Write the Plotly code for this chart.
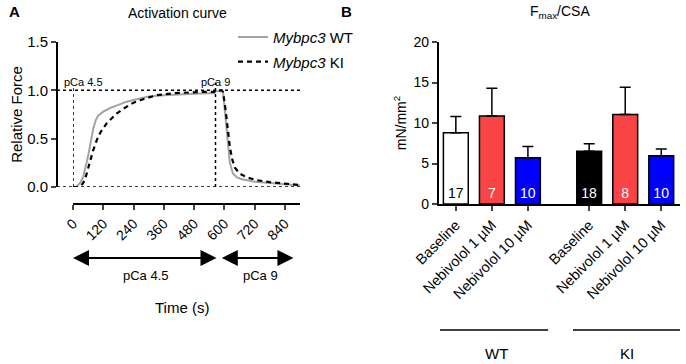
import plotly.graph_objects as go

# ---- Panel A data (relative force vs time) ----
t_wt = [0, 10, 20, 30, 40, 50, 60, 70, 80, 90, 100, 120, 150, 180, 210, 240, 270, 300,
        360, 420, 480, 540, 560, 565, 590, 595, 600, 605, 614, 622, 634, 650, 670, 690,
        720, 780, 840, 900]
f_wt = [0.0, 0.0, 0.02, 0.05, 0.10, 0.20, 0.32, 0.46, 0.60, 0.69, 0.74, 0.78, 0.82, 0.85,
        0.88, 0.90, 0.92, 0.935, 0.95, 0.96, 0.965, 0.97, 0.97, 0.99, 0.99, 0.98, 0.85,
        0.70, 0.41, 0.25, 0.14, 0.10, 0.08, 0.07, 0.055, 0.04, 0.025, 0.015]

t_ki = [0, 20, 30, 40, 50, 60, 70, 80, 95, 110, 134, 155, 173, 200, 238, 280, 333, 400,
        460, 520, 560, 565, 590, 595, 605, 613, 622, 632, 642, 660, 689, 730, 780, 840, 900]
f_ki = [0.0, 0.0, 0.01, 0.04, 0.10, 0.19, 0.30, 0.38, 0.49, 0.57, 0.66, 0.72, 0.76, 0.81,
        0.87, 0.91, 0.95, 0.97, 0.98, 0.985, 0.985, 1.0, 1.0, 0.98, 0.80, 0.60, 0.41, 0.28,
        0.20, 0.14, 0.10, 0.07, 0.05, 0.035, 0.02]

time_ticks = [0, 120, 240, 360, 480, 600, 720, 840]
switch_time = 565

# ---- Panel B data (Fmax/CSA) ----
bar_pos = [0, 1, 2, 3.7, 4.7, 5.7]
bar_labels = ["Baseline", "Nebivolol 1 µM", "Nebivolol 10 µM",
              "Baseline", "Nebivolol 1 µM", "Nebivolol 10 µM"]
bar_means = [8.8, 10.85, 5.7, 6.5, 11.05, 5.95]
bar_sem = [2.0, 3.45, 1.4, 0.95, 3.35, 0.85]
bar_n = ["17", "7", "10", "18", "8", "10"]
bar_colors = ["#ffffff", "#f84444", "#0000ff", "#000000", "#f84444", "#0000ff"]
n_colors = ["#000000", "#ffffff", "#ffffff", "#ffffff", "#ffffff", "#ffffff"]

FONT = "Arial, Liberation Sans, sans-serif"

fig = go.Figure()

fig.add_trace(go.Scatter(x=t_wt, y=f_wt, mode="lines", name="<i>Mybpc3</i> WT",
                         line=dict(color="#a3a3a3", width=2), xaxis="x", yaxis="y",
                         legend="legend"))
fig.add_trace(go.Scatter(x=t_ki, y=f_ki, mode="lines", name="<i>Mybpc3</i> KI",
                         line=dict(color="#000000", width=2.2, dash="5px,4px"),
                         xaxis="x", yaxis="y", legend="legend2"))

fig.add_trace(go.Bar(x=bar_pos, y=bar_means, width=0.69,
                     marker=dict(color=bar_colors, line=dict(color="black", width=1.5)),
                     error_y=dict(type="data", symmetric=False, array=bar_sem,
                                  arrayminus=[0] * len(bar_sem), color="black",
                                  thickness=1.5, width=5.5),
                     text=bar_n, textposition="inside", insidetextanchor="start",
                     textangle=0, textfont=dict(color=n_colors, size=14, family=FONT),
                     showlegend=False, xaxis="x2", yaxis="y2"))

shapes = []
# dotted reference lines panel A
for yv in [0, 1]:
    shapes.append(dict(type="line", xref="paper", yref="y", x0=0, x1=0.39, y0=yv, y1=yv,
                       line=dict(color="black", width=1.5, dash="dot")))
shapes.append(dict(type="line", xref="x", yref="y", x0=0, x1=0, y0=0, y1=1.03,
                   line=dict(color="black", width=1.5, dash="dot")))
shapes.append(dict(type="line", xref="x", yref="y", x0=switch_time, x1=switch_time, y0=0, y1=1.08,
                   line=dict(color="black", width=1.5, dash="dot")))
# group lines panel B
shapes.append(dict(type="line", xref="x2", yref="paper", x0=-0.44, x1=2.56, y0=-0.778, y1=-0.778,
                   line=dict(color="black", width=1.5)))
shapes.append(dict(type="line", xref="x2", yref="paper", x0=3.25, x1=6.28, y0=-0.778, y1=-0.778,
                   line=dict(color="black", width=1.5)))

arrow_y = -0.333
arrow_style = dict(showarrow=True, arrowside="end+start", arrowhead=2, startarrowhead=2,
                   arrowsize=1.6, startarrowsize=1.6, arrowwidth=2, arrowcolor="black",
                   axref="x", ayref="pixel", ay=0, xref="x", yref="paper", text="")


def label(text, x, y, xref="paper", yref="paper", size=13, xanchor="center"):
    return dict(text=text, x=x, y=y, xref=xref, yref=yref, showarrow=False,
                xanchor=xanchor, yanchor="middle", font=dict(size=size))


annotations = [
    label("<b>A</b>", -0.08, 1.19, size=15, xanchor="left"),
    label("Activation curve", 0.193, 1.18, size=14),
    label("<b>B</b>", 0.465, 1.19, size=15),
    label("F<sub>max</sub>/CSA", 0.807, 1.185, size=14),
    label("pCa 4.5", 40, 1.09, xref="x", yref="y", size=11),
    label("pCa 9", switch_time, 1.09, xref="x", yref="y", size=11),
    dict(x=0, y=arrow_y, ax=575, **arrow_style),
    dict(x=590, y=arrow_y, ax=880, **arrow_style),
    label("pCa 4.5", 288, -0.44, xref="x", size=13),
    label("pCa 9", 745, -0.44, xref="x", size=13),
    label("Time (s)", 0.2, -0.64, size=15),
    label("WT", 1.14, -0.92, xref="x2", size=15),
    label("KI", 4.75, -0.92, xref="x2", size=15),
]

legend_common = dict(x=0.2825, xanchor="left", yanchor="middle", bgcolor="rgba(0,0,0,0)",
                     font=dict(size=15), itemwidth=30)

fig.update_layout(
    width=686, height=364,
    margin=dict(l=57, r=6, t=42, b=160, autoexpand=False),
    paper_bgcolor="white", plot_bgcolor="white",
    font=dict(family=FONT, color="black", size=13),
    showlegend=True,
    legend=dict(y=1.03, **legend_common),
    legend2=dict(y=0.877, **legend_common),
    xaxis=dict(domain=[0.0257, 0.39], range=[0, 900], anchor="free", position=0,
               showline=True, linecolor="black", linewidth=2, ticks="outside", ticklen=5,
               tickwidth=2, tickvals=time_ticks, tickangle=-45, tickfont=dict(size=14),
               showgrid=False, zeroline=False),
    yaxis=dict(domain=[0.105, 1], range=[0, 1.5], anchor="free", position=0,
               showline=True, linecolor="black", linewidth=2, ticks="outside", ticklen=5,
               tickwidth=2, tickvals=[0, 0.5, 1.0, 1.5], tickformat=".1f",
               tickfont=dict(size=15), showgrid=False, zeroline=False,
               title=dict(text="Relative Force", font=dict(size=15), standoff=0)),
    xaxis2=dict(domain=[0.613, 1.0], range=[-0.47, 6.22], anchor="y2",
                showline=True, linecolor="black", linewidth=2, ticks="outside", ticklen=5,
                tickwidth=1.5, tickvals=bar_pos, ticktext=bar_labels, tickangle=-45,
                tickfont=dict(size=14.5), showgrid=False, zeroline=False),
    yaxis2=dict(domain=[0, 1], range=[0, 20], anchor="x2",
                showline=True, linecolor="black", linewidth=2, ticks="outside", ticklen=5,
                tickwidth=2, tickvals=[0, 5, 10, 15, 20], tickfont=dict(size=14),
                showgrid=False, zeroline=False,
                title=dict(text="mN/mm<sup>2</sup>", font=dict(size=14), standoff=4)),
    shapes=shapes, annotations=annotations,
)

fig.write_html("out.html", config={"displayModeBar": False},
               post_script="document.body.style.margin='0';document.body.style.overflow='hidden';")
